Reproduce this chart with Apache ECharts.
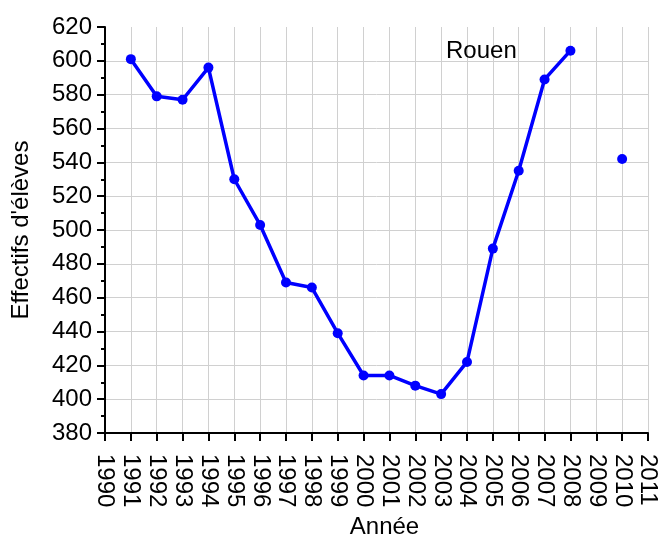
<!DOCTYPE html>
<html>
<head>
<meta charset="utf-8">
<script src="https://cdn.jsdelivr.net/npm/echarts@6/dist/echarts.min.js"></script>
<style>
  html, body { margin: 0; padding: 0; background: #fff; }
  #main { width: 660px; height: 534px; }
</style>
</head>
<body>
<div id="main"></div>
<script>
// Effectifs d'élèves, Rouen (2009 missing)
const years = [1991, 1992, 1993, 1994, 1995, 1996, 1997, 1998, 1999, 2000,
  2001, 2002, 2003, 2004, 2005, 2006, 2007, 2008, 2009, 2010];
const effectifs = [601, 579, 577, 596, 530, 503, 469, 466, 439, 414,
  414, 408, 403, 422, 489, 535, 589, 606, null, 542];

const font = "'Liberation Sans', Arial, sans-serif";

const chart = echarts.init(document.getElementById("main"));

const points = years.map((y, i) => [y, effectifs[i]]);

const options = {
  animation: false,
  title: {
    text: "Rouen",
    left: 441,
    top: 34,
    textStyle: { fontFamily: font, fontSize: 24, fontWeight: "normal", color: "#000" },
  },
  grid: { left: 105, right: 12, top: 27, bottom: 101, outerBoundsMode: "none", containLabel: false },
  xAxis: {
    type: "value",
    min: 1990,
    max: 2011,
    interval: 1,
    name: "Année",
    nameLocation: "middle",
    nameGap: 79,
    nameTextStyle: { fontFamily: font, fontSize: 24, color: "#000", padding: [0, 0, 0, 16] },
    axisLine: { onZero: false, lineStyle: { color: "#000", width: 2 } },
    axisTick: { show: true, inside: false, length: 8, lineStyle: { color: "#000", width: 2 } },
    axisLabel: {
      rotate: -90,
      margin: 21,
      fontFamily: font,
      fontSize: 24,
      color: "#000",
      formatter: (v) => String(v),
    },
    splitLine: { show: true, lineStyle: { color: "#d0d0d0", width: 1 } },
  },
  yAxis: {
    type: "value",
    min: 380,
    max: 620,
    interval: 20,
    name: "Effectifs d'élèves",
    nameLocation: "middle",
    nameGap: 72,
    nameTextStyle: { fontFamily: font, fontSize: 24, color: "#000" },
    axisLine: { show: true, lineStyle: { color: "#000", width: 2 } },
    axisTick: { show: true, inside: false, length: 8, lineStyle: { color: "#000", width: 2 } },
    minorTick: { show: true, splitNumber: 2, length: 4, lineStyle: { color: "#000", width: 2 } },
    axisLabel: { margin: 13, fontFamily: font, fontSize: 24, color: "#000" },
    splitLine: { show: true, showMaxLine: false, lineStyle: { color: "#d0d0d0", width: 1 } },
  },
  series: [
    {
      type: "line",
      data: points,
      connectNulls: false,
      showSymbol: true,
      showAllSymbol: true,
      symbol: "circle",
      symbolSize: 10,
      lineStyle: { color: "#0000ff", width: 3.5 },
      itemStyle: { color: "#0000ff" },
    },
  ],
};

chart.setOption(options);
</script>
</body>
</html>
